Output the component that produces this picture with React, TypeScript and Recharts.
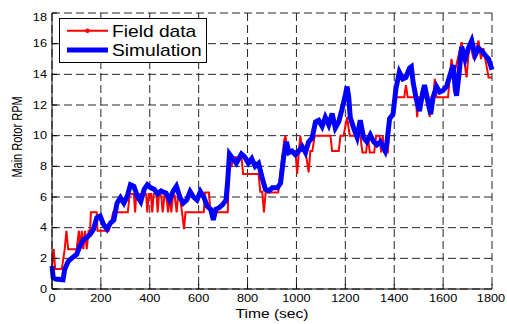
import { LineChart, Line, XAxis, YAxis, CartesianGrid, Legend, Label } from "recharts";

// Field data samples (time in sec, rotor rpm)
const fieldTime = [
  0, 7, 13, 40, 52, 59, 66, 101, 110, 115, 122, 128, 135, 142, 150, 156, 159, 183, 186, 232,
  240, 250, 310, 318, 335, 340, 345, 385, 390, 396, 405, 410, 416, 428, 432, 438, 447, 453, 460, 467,
  475, 482, 488, 495, 502, 510, 516, 525, 532, 540, 546, 621, 626, 642, 648, 719, 724, 735, 740, 775,
  782, 845, 852, 860, 867, 874, 925, 950, 955, 962, 996, 1003, 1010, 1016, 1023, 1037, 1050, 1057, 1065, 1075,
  1139, 1146, 1173, 1180, 1193, 1207, 1218, 1261, 1270, 1285, 1292, 1300, 1318, 1326, 1340, 1347, 1353, 1360, 1374, 1381,
  1392, 1400, 1441, 1448, 1455, 1488, 1494, 1500, 1540, 1545, 1552, 1560, 1566, 1573, 1620, 1634, 1645, 1660, 1676, 1696,
  1708, 1725, 1745, 1755, 1765, 1786, 1800,
];
const fieldRpm = [
  1.5, 2.6, 1.3, 1.3, 2.6, 3.8, 2.6, 2.6, 3.8, 2.6, 3.8, 2.6, 3.8, 2.6, 3.8, 3.8, 5.0, 5.0, 3.8, 3.8,
  4.2, 5.0, 5.0, 6.2, 6.2, 5.0, 6.2, 6.2, 5.0, 6.2, 6.2, 5.0, 6.2, 6.2, 5.0, 6.2, 6.1, 5.0, 6.1, 6.1,
  5.0, 6.1, 5.0, 6.1, 6.1, 5.0, 6.1, 5.8, 5.0, 3.9, 5.0, 5.0, 6.3, 6.3, 5.0, 5.0, 8.0, 8.0, 8.6, 8.6,
  7.5, 7.5, 6.35, 6.35, 5.0, 6.3, 6.3, 9.7, 10, 9.0, 9.0, 7.5, 9.0, 10, 9.0, 9.0, 7.6, 9.0, 9.0, 10,
  10, 9.0, 9.0, 10, 10, 11.2, 10, 10, 8.9, 8.9, 10, 8.9, 8.9, 10, 10, 8.9, 10, 8.9, 8.9, 11.2,
  11.2, 12.5, 12.5, 13.3, 12.5, 12.5, 11.2, 12.5, 12.5, 11.2, 12.5, 12.5, 13.7, 12.5, 12.5, 15.0, 14.0, 15.0, 16.1, 13.8,
  16.1, 15.0, 16.2, 15.0, 15.7, 13.8, 13.8,
];

// Simulation samples
const simTime = [
  0, 5, 15, 45, 52, 66, 80, 101, 114, 128, 142, 156, 170, 183, 197, 211, 225, 239, 253, 266,
  280, 294, 308, 321, 335, 349, 363, 377, 390, 404, 418, 432, 446, 459, 467, 481, 495, 509, 523, 537,
  551, 565, 579, 593, 607, 621, 635, 649, 660, 670, 684, 698, 712, 719, 726, 740, 754, 775, 789, 803,
  817, 831, 845, 859, 873, 887, 901, 922, 935, 948, 959, 969, 982, 996, 1010, 1023, 1037, 1050, 1064, 1078,
  1091, 1105, 1118, 1132, 1146, 1159, 1173, 1186, 1200, 1207, 1214, 1220, 1234, 1248, 1261, 1275, 1288, 1302, 1316, 1329,
  1343, 1363, 1370, 1381, 1395, 1407, 1421, 1435, 1448, 1462, 1470, 1477, 1490, 1503, 1517, 1524, 1538, 1549, 1559, 1573,
  1586, 1600, 1614, 1627, 1641, 1650, 1655, 1665, 1676, 1690, 1703, 1717, 1731, 1745, 1759, 1772, 1786, 1800,
];
const simRpm = [
  1.5, 0.75, 0.65, 0.6, 1.28, 1.8, 2.0, 2.26, 2.8, 3.2, 3.35, 3.56, 3.9, 4.65, 4.76, 4.2, 3.9, 4.3, 4.5, 5.6,
  5.95, 5.6, 6.06, 6.8, 6.7, 6.06, 5.7, 6.5, 6.8, 6.6, 6.5, 6.2, 6.4, 6.3, 6.25, 5.8, 6.36, 6.7, 6.0, 5.6,
  5.8, 6.36, 6.0, 5.8, 6.36, 6.0, 5.4, 5.2, 4.5, 5.2, 5.3, 5.5, 5.8, 7.1, 8.8, 8.5, 8.2, 8.8, 8.6, 8.2,
  8.5, 8.0, 8.2, 7.3, 6.5, 6.4, 6.6, 6.6, 6.9, 8.65, 9.6, 8.9, 9.0, 8.75, 9.0, 9.3, 8.9, 9.6, 9.85, 10.9,
  11.0, 10.6, 11.2, 10.7, 11.45, 10.5, 10.9, 11.7, 12.65, 13.2, 12.5, 11.2, 10.5, 9.9, 11.0, 9.85, 9.6, 10.05, 9.6, 9.4,
  9.6, 9.0, 9.5, 11.1, 11.4, 13.06, 14.15, 13.7, 13.8, 14.4, 14.5, 13.5, 12.4, 11.6, 12.85, 13.3, 12.2, 11.4, 12.5, 13.2,
  12.85, 12.95, 13.2, 13.9, 14.6, 13.0, 12.6, 14.0, 15.8, 15.0, 15.7, 16.2, 15.25, 15.7, 15.5, 15.25, 15.0, 14.3,
];

const xTicks = [0, 200, 400, 600, 800, 1000, 1200, 1400, 1600, 1800];
const yTicks = [0, 2, 4, 6, 8, 10, 12, 14, 16, 18];

const fieldData = fieldTime.map((t, i) => ({ t, v: fieldRpm[i] }));
const simData = simTime.map((t, i) => ({ t, v: simRpm[i] }));

const FONT = "'Liberation Sans', Arial, Helvetica, sans-serif";

const XTick = ({ x, y, payload }: any) => (
  <text transform={`translate(${x},${y + 7}) scale(1.25,1)`} textAnchor="middle" fontSize={10.2} fontWeight={400} fill="#000" fontFamily={FONT}>
    {payload.value}
  </text>
);

const YTick = ({ x, y, payload }: any) => (
  <text transform={`translate(${x},${y + 3.6}) scale(1.25,1)`} textAnchor="end" fontSize={10.2} fontWeight={400} fill="#000" fontFamily={FONT}>
    {payload.value}
  </text>
);

const LegendBox = () => (
  <svg width={148} height={45} style={{ display: "block" }}>
    <rect x={0.5} y={0.5} width={147} height={44} fill="#fff" stroke="#000" />
    <line x1={8} x2={49} y1={12.7} y2={12.7} stroke="#ff0000" strokeWidth={2} />
    <circle cx={28.5} cy={12.7} r={2.3} fill="#ff0000" />
    <line x1={8} x2={49} y1={32} y2={32} stroke="#0000ff" strokeWidth={5} />
    <text transform="translate(53,18.7) scale(1.2,1)" fontSize={16} fontFamily={FONT} fill="#000">Field data</text>
    <text transform="translate(53,38) scale(1.2,1)" fontSize={16} fontFamily={FONT} fill="#000">Simulation</text>
  </svg>
);

export default function App() {
  return (
    <div style={{ position: "absolute", left: 8, top: 8, width: 499, height: 316 }}>
      <LineChart
        width={499}
        height={316}
        margin={{ top: 5, right: 15, left: 0, bottom: 0 }}
        style={{ fontFamily: FONT, overflow: "visible" }}
      >
        <CartesianGrid stroke="#222" strokeDasharray="8 4" strokeWidth={1} />
        <XAxis
          dataKey="t"
          type="number"
          domain={[0, 1800]}
          ticks={xTicks}
          height={35}
          stroke="#000"
          tickSize={-5}
          tickMargin={11}
          tick={<XTick />}
          allowDuplicatedCategory={false}
        >
          <Label
            content={({ viewBox }: any) => (
              <text
                transform={`translate(${viewBox.x + viewBox.width / 2},${viewBox.y + 29}) scale(1.2,1)`}
                textAnchor="middle"
                fontSize={13}
                fontWeight={400}
                fontFamily={FONT}
                fill="#000"
              >
                Time (sec)
              </text>
            )}
          />
        </XAxis>
        <XAxis xAxisId="top" orientation="top" type="number" domain={[0, 1800]} ticks={xTicks} height={0} stroke="#000" tickSize={-5} tick={false} />
        <YAxis
          dataKey="v"
          type="number"
          domain={[0, 18]}
          ticks={yTicks}
          width={44}
          stroke="#000"
          tickSize={-5}
          tickMargin={10}
          tick={<YTick />}
        >
          <Label
            content={({ viewBox }: any) => (
              <text
                transform={`translate(${viewBox.x + 14},${viewBox.y + 124}) rotate(-90) scale(1,1.25)`}
                textAnchor="middle"
                fontSize={11}
                fontWeight={400}
                fontFamily={FONT}
                fill="#000"
              >
                Main Rotor RPM
              </text>
            )}
          />
        </YAxis>
        <YAxis yAxisId="right" orientation="right" type="number" domain={[0, 18]} ticks={yTicks} width={0} stroke="#000" tickSize={-5} tick={false} />
        <Legend
          layout="vertical"
          align="center"
          verticalAlign="middle"
          wrapperStyle={{ left: 51, top: 10, width: 148, height: 45 }}
          content={() => <LegendBox />}
        />
        <Line data={fieldData} dataKey="v" name="Field data" stroke="#ff0000" strokeWidth={2} dot={false} isAnimationActive={false} />
        <Line data={simData} dataKey="v" name="Simulation" stroke="#0000ff" strokeWidth={5} dot={false} isAnimationActive={false} />
      </LineChart>
    </div>
  );
}
